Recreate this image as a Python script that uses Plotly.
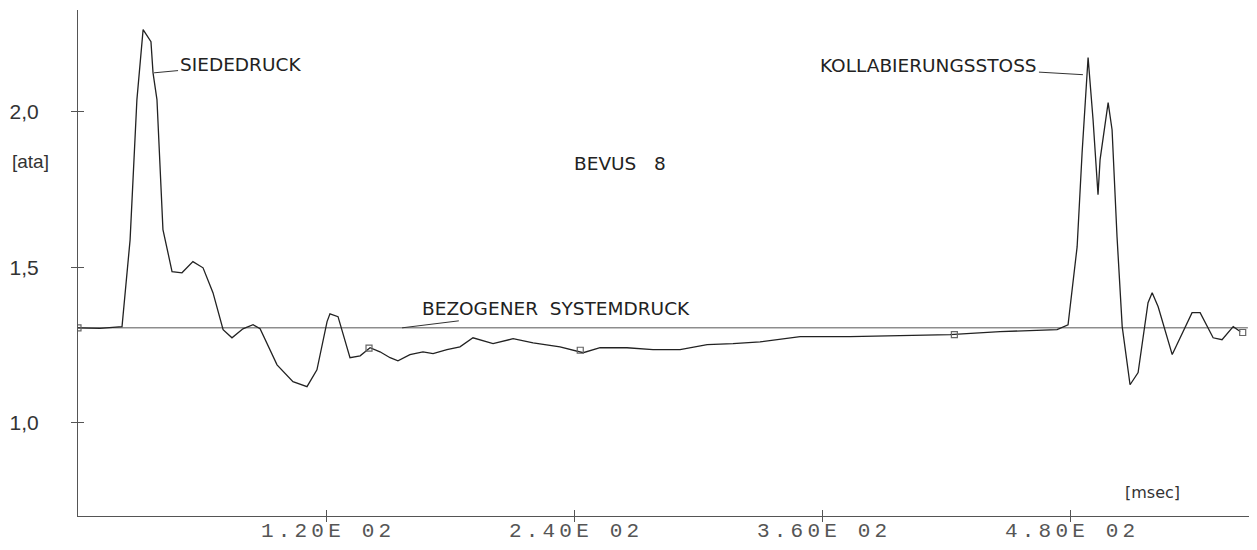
import plotly.graph_objects as go

# time in msec, pressure in ata
t_ms = [0, 10.6, 21.3, 25.2, 28.5, 31.5, 35.3, 36.3, 38.2, 41.1, 45.5, 50.3, 55.6, 60.5,
        65.3, 70.2, 74.5, 79.8, 84.7, 88.1, 96.3, 104.0, 110.8, 115.6, 120.5, 121.9,
        125.8, 131.6, 136.5, 141.3, 146.1, 151.0, 154.8, 160.6, 166.9, 171.8, 178.5,
        184.8, 191.1, 200.8, 210.5, 220.2, 233.2, 244.4, 252.6, 265.6, 278.2, 291.3,
        304.4, 316.9, 330.0, 349.4, 373.5, 397.7, 421.9, 446.1, 473.7, 479.0, 483.4,
        485.8, 488.7, 491.1, 493.5, 494.5, 498.4, 500.3, 502.7, 505.2, 509.0, 512.9,
        517.7, 519.7, 522.6, 529.4, 539.0, 542.9, 549.2, 553.5, 558.9, 562.3]
p_ata = [1.305, 1.303, 1.309, 1.588, 2.039, 2.264, 2.225, 2.125, 2.039, 1.621, 1.486, 1.482,
         1.518, 1.498, 1.418, 1.299, 1.273, 1.302, 1.315, 1.302, 1.186, 1.132, 1.116,
         1.170, 1.325, 1.350, 1.341, 1.209, 1.215, 1.241, 1.228, 1.209, 1.199, 1.219,
         1.228, 1.222, 1.235, 1.244, 1.273, 1.254, 1.270, 1.257, 1.244, 1.225, 1.241,
         1.241, 1.235, 1.235, 1.251, 1.254, 1.260, 1.277, 1.277, 1.280, 1.283, 1.293,
         1.299, 1.315, 1.566, 1.868, 2.174, 1.974, 1.733, 1.846, 2.029, 1.942, 1.598,
         1.309, 1.122, 1.161, 1.386, 1.418, 1.373, 1.219, 1.354, 1.354, 1.273, 1.267,
         1.309, 1.293]

# square sample markers along the trace
mark_t = [0, 140.8, 243.0, 424.0, 563.5]
mark_p = [1.305, 1.240, 1.233, 1.283, 1.290]

# reference system pressure line
ref_t = [0, 566]
ref_p = [1.305, 1.305]

x_ticks = [120, 240, 360, 480]
x_labels = ["1.20E 02", "2.40E 02", "3.60E 02", "4.80E 02"]
y_ticks = [1.0, 1.5, 2.0]
y_labels = ["1,0", "1,5", "2,0"]

X_RANGE = [0, 568]
Y_RANGE = [0.70, 2.327]

THIN = "\u2009"
x_text = [THIN.join(list(s)) for s in x_labels]

fig = go.Figure()
fig.add_trace(go.Scatter(x=ref_t, y=ref_p, mode="lines",
                         line=dict(color="#555555", width=1), hoverinfo="skip"))
fig.add_trace(go.Scatter(x=t_ms, y=p_ata, mode="lines",
                         line=dict(color="#222222", width=1.3)))
fig.add_trace(go.Scatter(x=mark_t, y=mark_p, mode="markers",
                         marker=dict(symbol="square-open", size=6, color="#666666",
                                     line=dict(width=1.2))))
# invisible trace for the overlay tick axes
fig.add_trace(go.Scatter(x=[X_RANGE[0]], y=[Y_RANGE[0]], xaxis="x2", yaxis="y2",
                         mode="markers", marker=dict(opacity=0), hoverinfo="skip"))

text_font = dict(family="DejaVu Sans, sans-serif", size=18.5, color="#222222")

fig.add_annotation(x=36.8, y=2.125, text="SIEDEDRUCK", showarrow=True, arrowhead=0,
                   arrowwidth=1, arrowcolor="#333333", ax=86, ay=-8, font=text_font,
                   standoff=0)
fig.add_annotation(x=486.2, y=2.119, text="KOLLABIERUNGSSTOSS", showarrow=True, arrowhead=0,
                   arrowwidth=1, arrowcolor="#333333", ax=-154, ay=-9, font=text_font,
                   standoff=0)
fig.add_annotation(x=156.8, y=1.305, text="BEZOGENER  SYSTEMDRUCK", showarrow=True,
                   arrowhead=0, arrowwidth=1, arrowcolor="#333333", ax=154, ay=-19,
                   font=text_font, standoff=0)
fig.add_annotation(x=262.3, y=1.834, text="BEVUS   8", showarrow=False, font=text_font)
fig.add_annotation(x=0, xref="paper", xanchor="right", xshift=-27, y=1.84, text="[ata]",
                   showarrow=False,
                   font=dict(family="Liberation Sans, Arial, sans-serif", size=19, color="#333333"))
fig.add_annotation(x=520, y=0.775, text="[msec]", showarrow=False,
                   font=dict(family="DejaVu Sans, sans-serif", size=16, color="#333333"))

fig.update_layout(
    width=1257, height=550,
    margin=dict(l=70, r=13, t=2, b=42),
    paper_bgcolor="white", plot_bgcolor="white",
    showlegend=False,
    xaxis=dict(range=X_RANGE, showgrid=False, zeroline=False, showline=True,
               linecolor="#555555", linewidth=1, ticks="inside", ticklen=6,
               tickcolor="#555555", tickvals=x_ticks, ticktext=x_text,
               tickfont=dict(family="Liberation Mono, DejaVu Sans Mono, monospace",
                             size=21, color="#555555"),
               ticklabelstandoff=-5, automargin=False),
    yaxis=dict(range=Y_RANGE, showgrid=False, zeroline=False, showline=True,
               linecolor="#555555", linewidth=1, ticks="outside", ticklen=6,
               tickcolor="#555555", tickvals=y_ticks, ticktext=y_labels,
               tickfont=dict(family="Liberation Sans, Arial, sans-serif", size=21,
                             color="#333333"),
               ticklabelstandoff=28, automargin=False),
    xaxis2=dict(range=X_RANGE, overlaying="x", anchor="y2", side="bottom",
                showgrid=False, zeroline=False, showline=False, ticks="outside",
                ticklen=5, tickcolor="#555555", tickvals=x_ticks, showticklabels=False,
                automargin=False),
    yaxis2=dict(range=Y_RANGE, overlaying="y", anchor="x2", side="left",
                showgrid=False, zeroline=False, showline=False, ticks="inside",
                ticklen=6, tickcolor="#555555", tickvals=y_ticks, showticklabels=False,
                automargin=False),
)

fig.write_html("out.html")
